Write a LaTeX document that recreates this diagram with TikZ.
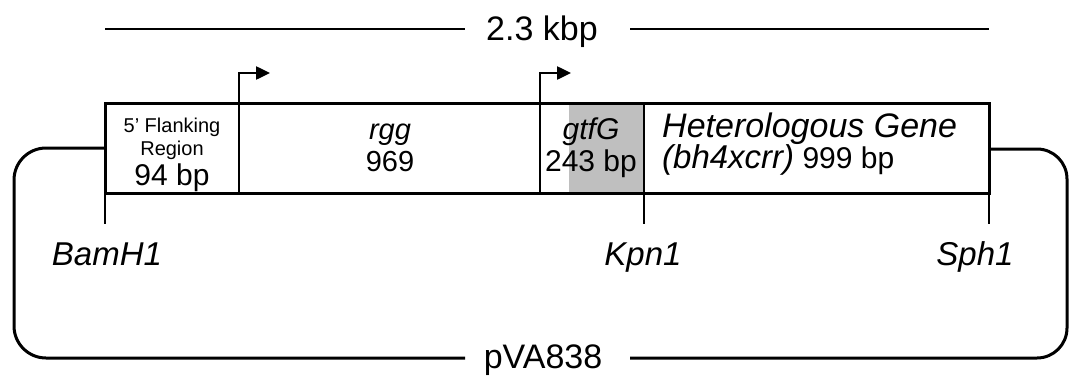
\documentclass[tikz,border=0pt]{standalone}
\usepackage{fontspec}
\setmainfont{Liberation Sans}
\usetikzlibrary{arrows.meta}
\begin{document}
\begin{tikzpicture}[x=1pt,y=-1pt,
  thick line/.style={line width=3pt},
  mid line/.style={line width=2pt},
  thin line/.style={line width=1.3pt},
  lbl/.style={inner sep=0pt, anchor=base, font=\fontsize{34}{34}\selectfont},
  site/.style={inner sep=0pt, anchor=base, font=\fontsize{33}{33}\selectfont\itshape},
  inbox/.style={inner sep=0pt, anchor=base, font=\fontsize{29}{29}\selectfont},
  small/.style={inner sep=0pt, anchor=base, font=\fontsize{20}{22}\selectfont},
  prom/.style={line width=2.5pt, -{Triangle[length=14pt,width=13pt]}}
]
\useasboundingbox (0,0) rectangle (1071,375);
% coordinates
\coordinate (bl) at (105,103);
\coordinate (br) at (989,193);
% shading
\fill[gray!50] (569,103) rectangle (644,193);
% dividers
\draw[mid line] (239,103) -- (239,193);
\draw[mid line] (540,103) -- (540,193);
\draw[mid line] (644,103) -- (644,193);
% box
\draw[thick line] (bl) rectangle (br);
% ticks
\draw[thin line] (105,193) -- (105,224);
\draw[thin line] (644,193) -- (644,224);
\draw[thin line] (989,193) -- (989,224);
% promoter arrows
\coordinate (p1) at (239,103);
\coordinate (p1t) at (239,73);
\coordinate (p1e) at (270,73);
\draw[prom] (p1) -- (p1t) -- (p1e);
\coordinate (p2) at (540,103);
\coordinate (p2t) at (540,73);
\coordinate (p2e) at (571,73);
\draw[prom] (p2) -- (p2t) -- (p2e);
% top scale
\node[lbl] (kbp) at (542,40) {2.3 kbp};
\coordinate (tl) at (105,29);
\coordinate (tr) at (989,29);
\coordinate (tlm) at (465,29);
\coordinate (trm) at (630,29);
\draw[mid line] (tl) -- (tlm);
\draw[mid line] (trm) -- (tr);
% plasmid loop
\node[lbl] (pva) at (543,368) {pVA838};
\coordinate (la) at (105,148);
\coordinate (ra) at (989,149);
\coordinate (blm) at (465,358);
\coordinate (brm) at (630,358);
\draw[thick line, rounded corners=32pt] (la) -- (14,148) -- (14,358) -- (blm);
\draw[thick line, rounded corners=30pt] (ra) -- (1067,149) -- (1067,358) -- (brm);
% site labels
\node[site] (bam) at (107,265) {BamH1};
\node[site] (kpn) at (643,265) {Kpn1};
\node[site] (sph) at (975,265) {Sph1};
% box texts
\node[small] (fl1) at (172,132) {5' Flanking};
\node[small] (fl2) at (172,155) {Region};
\node[inbox, font=\fontsize{30}{30}\selectfont] (fl3) at (172,185) {94 bp};
\node[inbox, font=\fontsize{29}{29}\selectfont\itshape] (rgg) at (390,139) {rgg};
\node[inbox] (n969) at (390,171) {969};
\node[inbox, font=\fontsize{30}{30}\selectfont\itshape] (gtf) at (591,139) {gtfG};
\node[inbox, font=\fontsize{30}{30}\selectfont] (n243) at (591,171) {243 bp};
\node[inbox, anchor=base west, font=\fontsize{34}{34}\selectfont\itshape] (het) at (662,137) {Heterologous Gene};
\node[inbox, anchor=base west, font=\fontsize{30}{30}\selectfont] (bh) at (662,168) {\fontsize{33}{33}\selectfont\itshape(bh4xcrr)\upshape\fontsize{30}{30}\selectfont{} 999 bp};
\end{tikzpicture}
\end{document}
